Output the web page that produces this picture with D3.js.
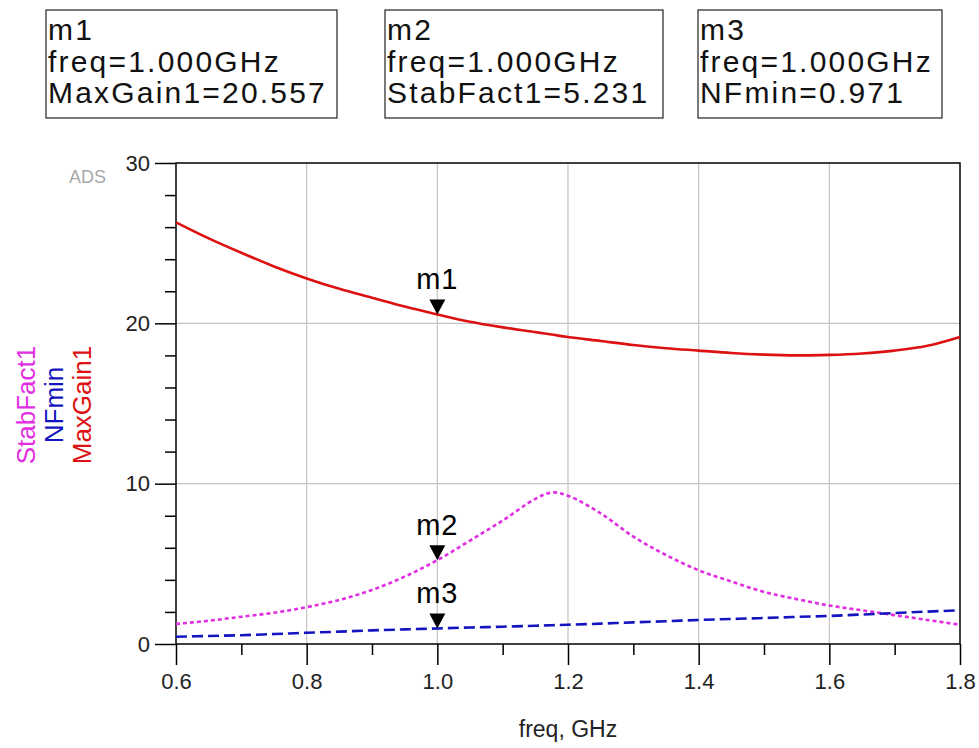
<!DOCTYPE html>
<html>
<head>
<meta charset="utf-8">
<script src="https://d3js.org/d3.v7.min.js"></script>
<style>
  body { margin: 0; background: #fff; }
  text { font-family: "Liberation Sans", Arial, sans-serif; }
</style>
</head>
<body>
<div id="chart"></div>
<script>
// data
var freq     = [0.6, 0.65, 0.7, 0.75, 0.8, 0.85, 0.9, 0.95, 1.0, 1.05, 1.1, 1.15, 1.175, 1.2, 1.25, 1.3, 1.35, 1.4, 1.45, 1.5, 1.55, 1.6, 1.65, 1.7, 1.75, 1.8];
var maxGain  = [26.3, 25.3, 24.4, 23.55, 22.8, 22.15, 21.6, 21.05, 20.557, 20.1, 19.75, 19.45, 19.3, 19.15, 18.9, 18.65, 18.45, 18.3, 18.15, 18.05, 18.0, 18.03, 18.12, 18.3, 18.6, 19.15];
var stabFact = [1.25, 1.45, 1.7, 1.95, 2.3, 2.75, 3.37, 4.2, 5.231, 6.45, 7.7, 9.05, 9.45, 9.25, 8.15, 6.7, 5.55, 4.6, 3.9, 3.25, 2.8, 2.4, 2.1, 1.8, 1.5, 1.2];
var nfMin    = [0.45, 0.5, 0.55, 0.62, 0.7, 0.77, 0.85, 0.91, 0.971, 1.03, 1.08, 1.14, 1.17, 1.2, 1.27, 1.35, 1.42, 1.5, 1.56, 1.62, 1.69, 1.75, 1.84, 1.93, 2.02, 2.1];

var xMajor = [0.6, 0.8, 1.0, 1.2, 1.4, 1.6, 1.8];
var xMinor = [0.7, 0.9, 1.1, 1.3, 1.5, 1.7];
var yMajor = [0, 10, 20, 30];
var yMinor = [2, 4, 6, 8, 12, 14, 16, 18, 22, 24, 26, 28];

var markerNames  = ["m1", "m2", "m3"];
var markerTraces = ["MaxGain1", "StabFact1", "NFmin"];
var markerValues = [20.557, 5.231, 0.971];
var markerFreq = 1.0;

var W = 979, H = 748;
var margin = {top: 163, right: 19, bottom: 104, left: 176};
var width = W - margin.left - margin.right,
    height = H - margin.top - margin.bottom;

var svg = d3.select("#chart").append("svg")
    .attr("width", W)
    .attr("height", H);

var g = svg.append("g")
    .attr("transform", "translate(" + margin.left + "," + margin.top + ")");

var x = d3.scaleLinear().domain([0.6, 1.8]).range([0, width]);
var y = d3.scaleLinear().domain([0, 30]).range([height, 0]);

// grid
g.append("g").selectAll("line")
    .data(xMajor.slice(1, -1))
    .join("line")
    .attr("x1", function(d) { return x(d); })
    .attr("x2", function(d) { return x(d); })
    .attr("y1", 0).attr("y2", height)
    .attr("stroke", "#c4c4c4").attr("stroke-width", 1.2);
g.append("g").selectAll("line")
    .data(yMajor.slice(1, -1))
    .join("line")
    .attr("y1", function(d) { return y(d); })
    .attr("y2", function(d) { return y(d); })
    .attr("x1", 0).attr("x2", width)
    .attr("stroke", "#c4c4c4").attr("stroke-width", 1.2);

// axes: major ticks with labels, minor ticks without
function styleAxis(sel) {
  sel.select(".domain").remove();
  sel.selectAll("line").attr("stroke", "#000").attr("stroke-width", 1.5);
  sel.selectAll("text").attr("fill", "#222").style("font-size", "22px");
}

g.append("g")
    .attr("transform", "translate(0," + height + ")")
    .call(d3.axisBottom(x).tickValues(xMajor).tickSize(21).tickPadding(8).tickFormat(d3.format(".1f")))
    .call(styleAxis);
g.append("g")
    .attr("transform", "translate(0," + height + ")")
    .call(d3.axisBottom(x).tickValues(xMinor).tickSize(11).tickFormat(""))
    .call(styleAxis);

g.append("g")
    .call(d3.axisLeft(y).tickValues(yMajor).tickSize(21).tickPadding(5).tickFormat(d3.format("d")))
    .call(styleAxis);
g.append("g")
    .call(d3.axisLeft(y).tickValues(yMinor).tickSize(11).tickFormat(""))
    .call(styleAxis);

// frame
g.append("rect")
    .attr("width", width).attr("height", height)
    .attr("fill", "none").attr("stroke", "#000").attr("stroke-width", 1.5);

// traces
var line = d3.line()
    .x(function(d) { return x(d[0]); })
    .y(function(d) { return y(d[1]); })
    .curve(d3.curveCatmullRom);

var traces = [
  {vals: maxGain,  color: "#dd1111", dash: null},
  {vals: stabFact, color: "#e22ee2", dash: "4,3"},
  {vals: nfMin,    color: "#1515c0", dash: "11,5"}
];

traces.forEach(function(t) {
  g.append("path")
      .datum(freq.map(function(f, i) { return [f, t.vals[i]]; }))
      .attr("d", line)
      .attr("fill", "none")
      .attr("stroke", t.color)
      .attr("stroke-width", 2.6)
      .attr("stroke-dasharray", t.dash);
});

// marker triangles and labels
markerValues.forEach(function(v, i) {
  var mx = x(markerFreq), my = y(v);
  g.append("path")
      .attr("d", "M" + (mx - 8) + "," + (my - 15) + "L" + (mx + 8) + "," + (my - 15) + "L" + mx + "," + my + "Z")
      .attr("fill", "#000");
  g.append("text")
      .attr("x", mx).attr("y", my - 25)
      .attr("text-anchor", "middle")
      .style("font-size", "29px")
      .style("letter-spacing", "1px")
      .text(markerNames[i]);
});

// marker readout boxes
var boxX = [46, 385, 698], boxW = [291, 278, 244];
markerNames.forEach(function(name, i) {
  var b = svg.append("g").attr("transform", "translate(" + boxX[i] + ",10)");
  b.append("rect")
      .attr("width", boxW[i]).attr("height", 108)
      .attr("fill", "#fff").attr("stroke", "#222").attr("stroke-width", 1.2);
  var lines = [name, "freq=1.000GHz", markerTraces[i] + "=" + markerValues[i].toFixed(3)];
  b.selectAll("text.l")
      .data(lines)
      .join("text")
      .attr("x", 2)
      .attr("y", function(d, k) { return 30 + k * 31.5; })
      .style("font-size", "30px")
      .style("letter-spacing", "2.2px")
      .attr("fill", "#111")
      .text(function(d) { return d; });
});

// ADS tag
svg.append("text")
    .attr("x", 69).attr("y", 183)
    .style("font-size", "18px")
    .attr("fill", "#a8a8a8")
    .text("ADS");

// y label (three stacked rotated titles)
var yLabels = [
  {text: "StabFact1", color: "#e22ee2", x: 35},
  {text: "NFmin",     color: "#1515c0", x: 63},
  {text: "MaxGain1",  color: "#dd1111", x: 91}
];
yLabels.forEach(function(l) {
  svg.append("text")
      .attr("transform", "translate(" + l.x + ",405) rotate(-90)")
      .attr("text-anchor", "middle")
      .style("font-size", "26px")
      .attr("fill", l.color)
      .text(l.text);
});

// x label
svg.append("text")
    .attr("x", 568).attr("y", 737)
    .attr("text-anchor", "middle")
    .style("font-size", "23px")
    .attr("fill", "#222")
    .text("freq, GHz");
</script>
</body>
</html>
